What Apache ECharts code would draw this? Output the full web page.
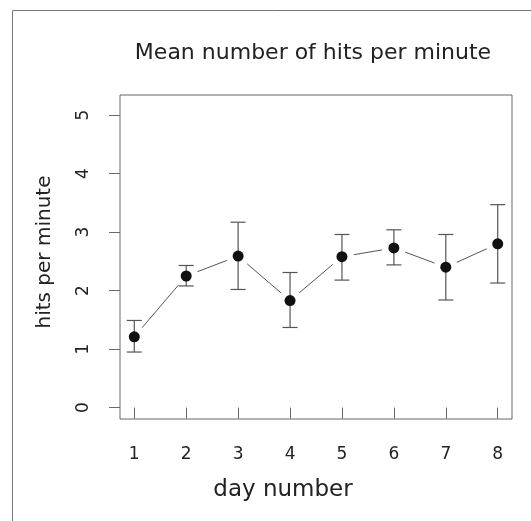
<!DOCTYPE html>
<html><head><meta charset="utf-8">
<script src="https://cdn.jsdelivr.net/npm/echarts@6/dist/echarts.min.js"></script>
<style>html,body{margin:0;padding:0;background:#fff}#c{width:531px;height:521px}</style>
</head><body><div id="c"></div>
<script>
const days = [1, 2, 3, 4, 5, 6, 7, 8];
const meanHits = [1.21, 2.25, 2.59, 1.83, 2.58, 2.73, 2.40, 2.80];
const upperHits = [1.49, 2.43, 3.17, 2.31, 2.96, 3.04, 2.96, 3.47];
const lowerHits = [0.95, 2.08, 2.02, 1.37, 2.18, 2.44, 1.84, 2.13];
const xTicks = [1, 2, 3, 4, 5, 6, 7, 8];
const yTicks = [0, 1, 2, 3, 4, 5];

const FONT = 'DejaVu Sans';
const chart = echarts.init(document.getElementById('c'), null, {renderer: 'canvas'});

const segData = [];
for (let i = 0; i < days.length - 1; i++) segData.push([days[i], meanHits[i], days[i+1], meanHits[i+1]]);
const errData = days.map((d, i) => [d, lowerHits[i], upperHits[i]]);

chart.setOption({
  animation: false,
  backgroundColor: '#fff',
  title: {
    text: 'Mean number of hits per minute',
    left: 308, top: 37, textAlign: 'center',
    textStyle: {fontFamily: FONT, fontSize: 22, fontWeight: 'normal', color: '#222'}
  },
  graphic: [
    {type: 'rect', shape: {x: 12.5, y: 10.5, width: 600, height: 600}, style: {fill: null, stroke: '#777', lineWidth: 1}, silent: true},
    {type: 'text', x: 283, y: 490, style: {text: 'day number', font: '23px "DejaVu Sans"', fill: '#222', textAlign: 'center', textVerticalAlign: 'middle'}},
    {type: 'text', x: 45, y: 252, rotation: Math.PI / 2, style: {text: 'hits per minute', font: '20px "DejaVu Sans"', fill: '#222', textAlign: 'center', textVerticalAlign: 'middle'}}
  ],
  grid: {left: 120, top: 95, width: 392, height: 324, show: true, borderColor: '#666', borderWidth: 1, backgroundColor: 'transparent'},
  xAxis: {
    type: 'value', min: 0.725, max: 8.275,
    axisLine: {show: false},
    splitLine: {show: false},
    axisTick: {show: true, length: 11, lineStyle: {color: '#666'}, customValues: xTicks},
    axisLabel: {customValues: xTicks, margin: 27, fontFamily: FONT, fontSize: 17, color: '#222'}
  },
  yAxis: {
    type: 'value', min: -0.195, max: 5.345,
    axisLine: {show: false},
    splitLine: {show: false},
    axisTick: {show: true, length: 11, lineStyle: {color: '#666'}, customValues: yTicks},
    axisLabel: {customValues: yTicks, rotate: 90, margin: 28, fontFamily: FONT, fontSize: 17, color: '#222'}
  },
  series: [
    {
      type: 'custom', data: segData, silent: true, z: 2,
      renderItem: function (params, api) {
        const a = api.coord([api.value(0), api.value(1)]);
        const b = api.coord([api.value(2), api.value(3)]);
        const dx = b[0] - a[0], dy = b[1] - a[1];
        const len = Math.sqrt(dx * dx + dy * dy);
        const g = 12;
        if (len <= 2 * g) return null;
        const ux = dx / len, uy = dy / len;
        return {type: 'line', shape: {x1: a[0] + ux * g, y1: a[1] + uy * g, x2: b[0] - ux * g, y2: b[1] - uy * g},
          style: {stroke: '#555', lineWidth: 1}};
      }
    },
    {
      type: 'custom', data: errData, silent: true, z: 2,
      renderItem: function (params, api) {
        const lo = api.coord([api.value(0), api.value(1)]);
        const hi = api.coord([api.value(0), api.value(2)]);
        const w = 7.5;
        const st = {stroke: '#555', lineWidth: 1.2};
        return {type: 'group', children: [
          {type: 'line', shape: {x1: lo[0], y1: lo[1], x2: hi[0], y2: hi[1]}, style: st},
          {type: 'line', shape: {x1: lo[0] - w, y1: lo[1], x2: lo[0] + w, y2: lo[1]}, style: st},
          {type: 'line', shape: {x1: hi[0] - w, y1: hi[1], x2: hi[0] + w, y2: hi[1]}, style: st}
        ]};
      }
    },
    {
      type: 'scatter', z: 3, silent: true,
      data: days.map((d, i) => [d, meanHits[i]]),
      symbol: 'circle', symbolSize: 11,
      itemStyle: {color: '#111', opacity: 1}
    }
  ]
});
</script></body></html>
